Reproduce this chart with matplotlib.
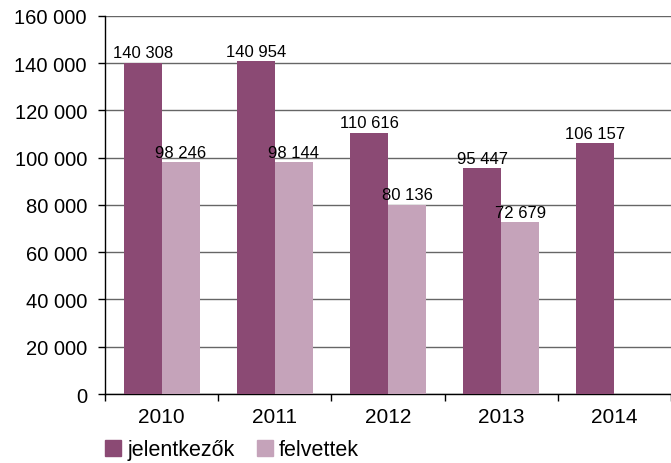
import numpy as np
import matplotlib.pyplot as plt
from matplotlib.patches import Patch

years = ["2010", "2011", "2012", "2013", "2014"]
jelentkezok = [140308, 140954, 110616, 95447, 106157]
felvettek = [98246, 98144, 80136, 72679, np.nan]
yticks = [0, 20000, 40000, 60000, 80000, 100000, 120000, 140000, 160000]

dark = "#8b4a74"
light = "#c5a3ba"


def fmt(v):
    return "{:,}".format(int(v)).replace(",", " ")


plt.rcParams['font.family'] = ['Liberation Sans', 'DejaVu Sans']

fig = plt.figure(figsize=(6.71, 4.64), dpi=100)
ax = fig.add_axes([0.1565, 0.1487, 0.8435, 0.8147])

x = np.arange(len(years))
w = 0.336
b1 = ax.bar(x - w / 2, jelentkezok, w, color=dark, zorder=3)
b2 = ax.bar(x + w / 2, felvettek, w, color=light, zorder=3)

for rects, vals in ((b1, jelentkezok), (b2, felvettek)):
    for r, v in zip(rects, vals):
        if np.isnan(v):
            continue
        ax.text(r.get_x() + r.get_width() / 2, v + 1000, fmt(v), ha='center', va='bottom',
                fontsize=12, family=['Liberation Sans Narrow', 'Liberation Sans'], zorder=4)

ax.set_xlim(-0.5, len(years) - 0.5)
ax.set_ylim(0, 160000)
ax.set_yticks(yticks)
ax.set_yticklabels([fmt(v) for v in yticks], fontsize=14.5)
ax.set_xticks(x)
ax.set_xticklabels(years, fontsize=15)
ax.set_xticks(np.arange(len(years) + 1) - 0.5, minor=True)
ax.tick_params(axis='x', which='major', length=0, pad=9)
ax.tick_params(axis='x', which='minor', length=5, direction='out', width=1)
ax.tick_params(axis='y', length=5, direction='out', width=1, pad=8)

ax.grid(axis='y', color='#666666', linewidth=1, zorder=0)
for s in ['top', 'right']:
    ax.spines[s].set_visible(False)
ax.spines['left'].set_linewidth(1)
ax.spines['bottom'].set_linewidth(1)

handles = [Patch(color=dark, label='jelentkezők'), Patch(color=light, label='felvettek')]
fig.legend(handles=handles, loc='lower left', bbox_to_anchor=(0.128, -0.036), ncol=2,
           frameon=False, fontsize=15.5, handlelength=0.75, handleheight=0.75,
           handletextpad=0.3, columnspacing=1.0)

fig.savefig("out.png", dpi=100)
